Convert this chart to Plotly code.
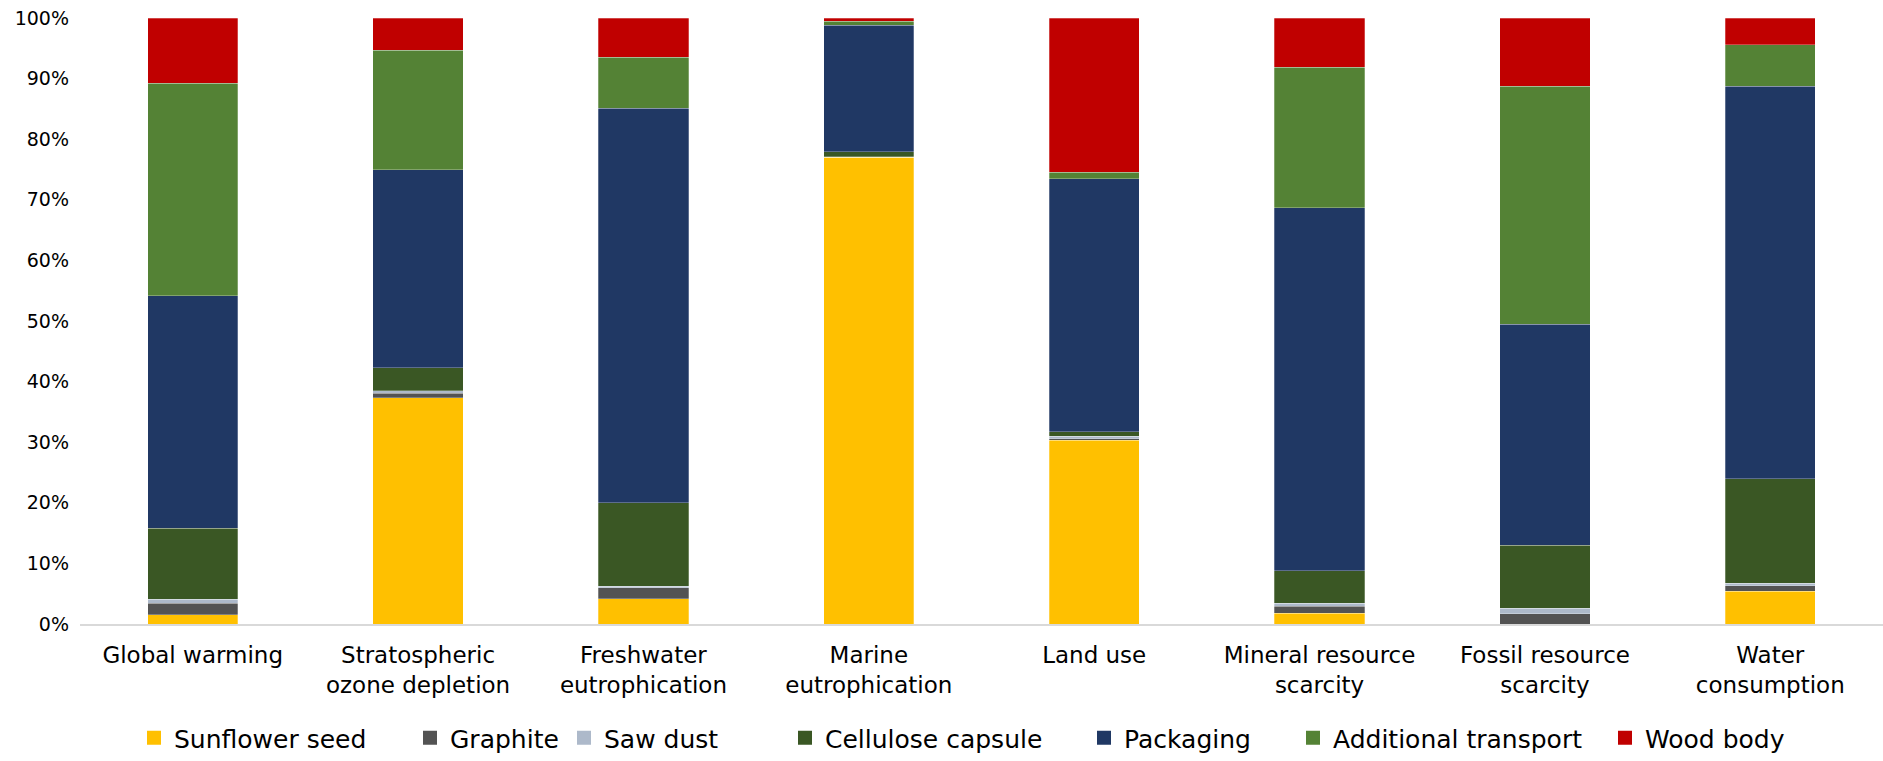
import plotly.graph_objects as go

# Impact categories (x axis)
categories = [
    "Global warming",
    "Stratospheric<br>ozone depletion",
    "Freshwater<br>eutrophication",
    "Marine<br>eutrophication",
    "Land use",
    "Mineral resource<br>scarcity",
    "Fossil resource<br>scarcity",
    "Water<br>consumption",
]

# Contribution of each life-cycle component (% of category total)
sunflower_seed = [1.5, 37.3, 4.2, 77.0, 30.3, 1.8, 0.0, 5.4]
graphite = [1.9, 0.75, 1.8, 0.05, 0.3, 1.1, 1.7, 0.9]
saw_dust = [0.7, 0.45, 0.2, 0.05, 0.4, 0.5, 0.9, 0.4]
cellulose_capsule = [11.7, 3.8, 13.8, 0.8, 0.7, 5.4, 10.4, 17.3]
packaging = [38.4, 32.7, 65.1, 20.9, 41.75, 59.9, 36.5, 64.7]
additional_transport = [35.0, 19.7, 8.4, 0.7, 1.1, 23.2, 39.2, 6.9]
wood_body = [10.8, 5.3, 6.5, 0.5, 25.45, 8.1, 11.3, 4.4]

y_ticks = [0, 10, 20, 30, 40, 50, 60, 70, 80, 90, 100]
y_tick_labels = [f"{v}%" for v in y_ticks]

series_names = ["Sunflower seed", "Graphite", "Saw dust", "Cellulose capsule",
                "Packaging", "Additional transport", "Wood body"]
series_values = [sunflower_seed, graphite, saw_dust, cellulose_capsule,
                 packaging, additional_transport, wood_body]
series_colors = ["#FFC000", "#535353", "#ADB9CA", "#3A5724",
                 "#203864", "#548235", "#C00000"]

# Left edge (px) of each legend entry along the bottom row
legend_left_px = [134, 410, 564, 785, 1084, 1293, 1605]

W, H = 1883, 761
FONT = "DejaVu Sans"

fig = go.Figure()
for i, (name, values, color) in enumerate(zip(series_names, series_values, series_colors)):
    fig.add_trace(
        go.Bar(
            name=name,
            x=categories,
            y=values,
            marker=dict(color=color, line=dict(color="rgba(255,255,255,0.45)", width=0.6)),
            showlegend=False,
        )
    )
    # Square legend key for this component
    legend_id = "legend" if i == 0 else f"legend{i + 1}"
    fig.add_trace(
        go.Scatter(
            name=name,
            x=[None],
            y=[None],
            mode="markers",
            marker=dict(symbol="square", size=14, color=color),
            legend=legend_id,
            showlegend=True,
        )
    )

legend_style = dict(
    orientation="h",
    xref="container",
    yref="container",
    xanchor="left",
    yanchor="bottom",
    y=-0.008,
    font=dict(family=FONT, size=25, color="#000000"),
    itemwidth=30,
    bgcolor="rgba(0,0,0,0)",
    borderwidth=0,
)
legend_layout = {}
for i, px in enumerate(legend_left_px):
    key = "legend" if i == 0 else f"legend{i + 1}"
    legend_layout[key] = dict(legend_style, x=px / W)

fig.update_layout(
    barmode="stack",
    bargap=0.6,
    width=W,
    height=H,
    margin=dict(l=80, r=0, t=18, b=137, autoexpand=False),
    paper_bgcolor="white",
    plot_bgcolor="white",
    font=dict(family=FONT, color="#000000", size=20),
    showlegend=True,
    xaxis=dict(
        showline=True,
        linecolor="#D9D9D9",
        linewidth=1.5,
        showgrid=False,
        ticks="",
        ticklabelstandoff=10,
        tickfont=dict(family=FONT, size=23, color="#000000"),
    ),
    yaxis=dict(
        range=[0, 100],
        tickvals=y_ticks,
        ticktext=y_tick_labels,
        showgrid=False,
        zeroline=False,
        showline=False,
        ticks="",
        ticklabelstandoff=10,
        tickfont=dict(family=FONT, size=19, color="#000000"),
    ),
    **legend_layout,
)

fig.write_html("out.html")
